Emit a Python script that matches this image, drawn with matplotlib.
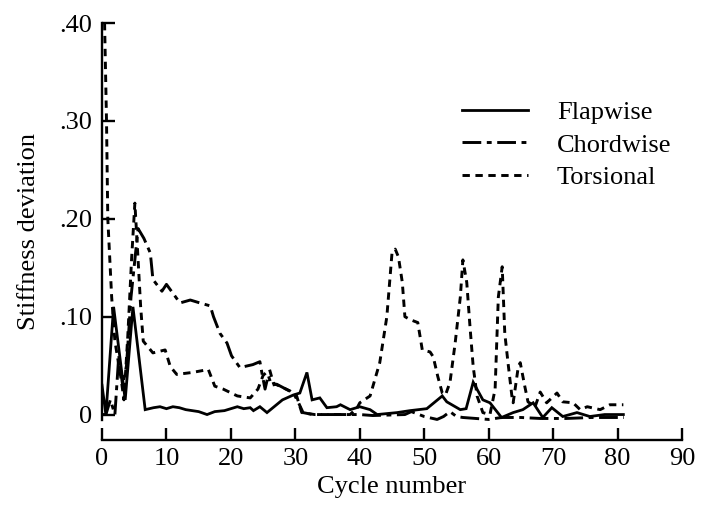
import matplotlib
matplotlib.use("Agg")
import matplotlib.pyplot as plt

plt.rcParams['font.family'] = ['Liberation Serif', 'DejaVu Serif']
plt.rcParams['lines.scale_dashes'] = False

# Flapwise stiffness deviation
flap_x = [0, 0.6, 1.8, 3.6, 4.8, 6.7, 8, 9, 10, 11, 12, 13, 14, 15, 16.3, 17.5,
          19, 21, 22, 23, 23.5, 24.5, 25.6, 28, 29.7, 30.7, 31.8, 32.6, 33.8,
          34.9, 36.4, 37, 38.5, 40, 41.6, 42.7, 45.8, 47.8, 50.4, 52.8, 53.5,
          55.6, 56.5, 57.6, 59.1, 60.2, 62, 63.8, 65.3, 66.9, 68.4, 69.8, 71.5,
          73.7, 75.7, 78, 80.9]
flap_y = [0.03, 0.0, 0.11, 0.015, 0.11, 0.005, 0.007, 0.008, 0.006, 0.008,
          0.007, 0.005, 0.004, 0.003, 0.0, 0.003, 0.004, 0.008, 0.006, 0.007,
          0.004, 0.008, 0.002, 0.015, 0.02, 0.022, 0.043, 0.015, 0.017, 0.007,
          0.008, 0.01, 0.005, 0.008, 0.005, 0.0, 0.002, 0.004, 0.006, 0.019,
          0.013, 0.005, 0.006, 0.033, 0.015, 0.012, -0.003, 0.002, 0.005,
          0.012, -0.003, 0.007, -0.002, 0.002, -0.002, 0.0, 0.0]

# Chordwise stiffness deviation
chord_x = [0, 0.6, 1.3, 2, 2.6, 3.2, 3.8, 4.5, 5.6, 6.5, 7.5, 7.9, 9.3, 10,
           12.1, 13.7, 15.2, 16.8, 17.3, 18.3, 19.4, 20.1, 21.4, 23.4, 24.5,
           24.8, 25.3, 25.8, 26.3, 27.1, 29.7, 30.5, 31.2, 32.7, 36, 40, 42,
           47, 48, 50, 52, 53, 54, 55, 56, 58, 60, 62, 65, 68, 72, 76, 81]
chord_y = [0.0, 0.0, 0.015, 0.0, 0.06, 0.03, 0.05, 0.12, 0.19, 0.18, 0.165,
           0.138, 0.126, 0.133, 0.114, 0.117, 0.114, 0.111, 0.1, 0.083, 0.073,
           0.06, 0.048, 0.051, 0.054, 0.043, 0.026, 0.04, 0.03, 0.031, 0.022,
           0.012, 0.002, 0.0, 0.0, 0.0, -0.001, 0.0, 0.003, -0.002, -0.005,
           -0.002, 0.003, -0.002, -0.003, -0.004, -0.005, -0.003, -0.003,
           -0.004, -0.004, -0.003, -0.003]

# Torsional stiffness deviation
tors_x = [0.4, 0.7, 0.9, 1.5, 2, 2.5, 3, 3.4, 4, 4.6, 5.1, 5.5, 6, 6.4, 7.9,
          9.8, 10.6, 11.6, 14, 16.5, 17.5, 18.8, 21, 23, 24.2, 25, 26, 26.6,
          29.2, 30.2, 31, 33, 36, 38.5, 39.6, 40, 41.6, 43.1, 44.2, 45, 45.5,
          46, 46.6, 47, 47.8, 49, 49.7, 50.9, 51.4, 52.1, 52.8, 53.3, 54, 54.8,
          55.6, 56, 56.6, 57.1, 57.6, 58.2, 59.1, 60.2, 61, 61.5, 62.1, 62.5,
          63, 63.6, 63.8, 64.6, 64.9, 65.6, 66.1, 67.2, 68, 69, 70.6, 71.5,
          73.1, 74.2, 75.3, 77.3, 78.8, 80.9]
tors_y = [0.40, 0.30, 0.20, 0.12, 0.075, 0.055, 0.035, 0.015, 0.08, 0.16,
          0.216, 0.17, 0.11, 0.075, 0.063, 0.066, 0.049, 0.041, 0.043, 0.046,
          0.029, 0.026, 0.019, 0.017, 0.026, 0.04, 0.046, 0.032, 0.024, 0.019,
          0.002, 0.0, 0.0, 0.0, 0.007, 0.012, 0.019, 0.053, 0.1, 0.165, 0.169,
          0.161, 0.135, 0.1, 0.097, 0.094, 0.066, 0.064, 0.059, 0.039, 0.022,
          0.02, 0.033, 0.073, 0.12, 0.158, 0.135, 0.09, 0.049, 0.019, 0.002,
          0.0, 0.026, 0.12, 0.151, 0.083, 0.053, 0.019, 0.012, 0.049, 0.053,
          0.029, 0.013, 0.008, 0.023, 0.012, 0.022, 0.013, 0.012, 0.005, 0.008,
          0.005, 0.01, 0.01]

x_ticks = [0, 10, 20, 30, 40, 50, 60, 70, 80, 90]
y_ticks = [0, 0.10, 0.20, 0.30, 0.40]
y_tick_labels = ['0', '.10', '.20', '.30', '.40']

W, H = 701, 509
fig = plt.figure(figsize=(W / 100, H / 100), dpi=100)
ax = fig.add_axes([102 / W, 1 - 440 / H, 580 / W, 417 / H])

fs = 19
ax.plot(flap_x, flap_y, color='black', lw=2.0, solid_joinstyle='miter',
        label='Flapwise')
ax.plot(chord_x, chord_y, color='black', lw=2.1, dashes=(13.5, 4.0, 3.5, 4.0),
        label='Chordwise')
ax.plot(tors_x, tors_y, color='black', lw=2.1, dashes=(5.3, 4.0),
        label='Torsional')

ax.set_xlim(0, 90)
ax.set_ylim(-0.026, 0.40)
ax.spines['top'].set_visible(False)
ax.spines['right'].set_visible(False)
ax.spines['left'].set_bounds(-0.006, 0.40)
for s in ('left', 'bottom'):
    ax.spines[s].set_linewidth(1.7)

ax.set_xticks(x_ticks)
ax.set_xticklabels([str(t) for t in x_ticks])
ax.set_yticks(y_ticks)
ax.set_yticklabels(y_tick_labels)
ax.tick_params(axis='both', direction='in', length=9, width=1.7,
               labelsize=fs, colors='black')
ax.tick_params(axis='x', pad=6)
ax.tick_params(axis='y', pad=7)

ax.set_xlabel('Cycle number', fontsize=fs, labelpad=4)
ax.set_ylabel('Stiffness deviation', fontsize=fs, labelpad=14)

ax.legend(loc='upper left', bbox_to_anchor=(462 / W, 1 - 101 / H),
          bbox_transform=fig.transFigure, frameon=False, fontsize=fs,
          handlelength=2.5, handletextpad=1.1, labelspacing=0.33,
          borderaxespad=0, borderpad=0)

fig.savefig('out.png', dpi=100)
